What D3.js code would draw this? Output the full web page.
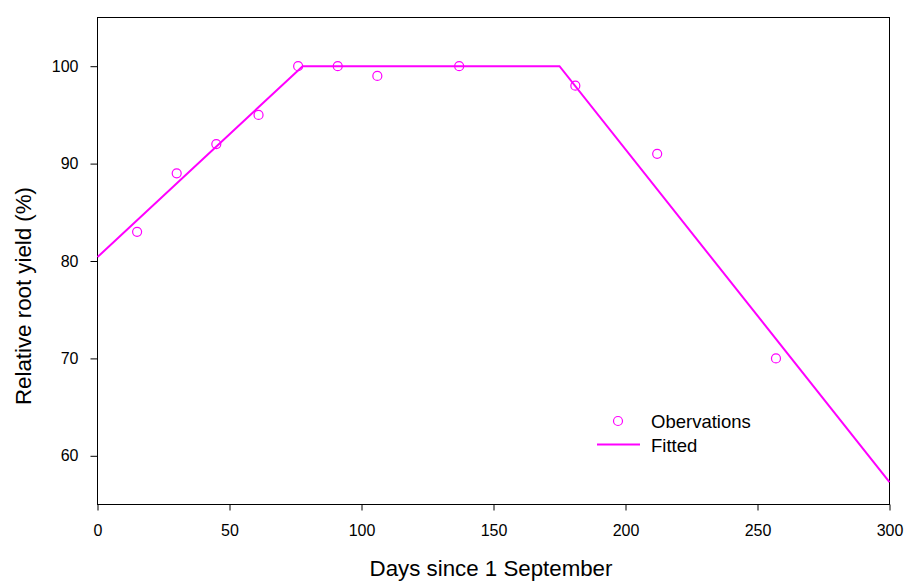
<!DOCTYPE html>
<html><head><meta charset="utf-8">
<script src="https://cdn.jsdelivr.net/npm/d3@7"></script>
<style>body{margin:0;background:#fff}svg{display:block}text{font-family:"Liberation Sans",Arial,sans-serif}</style>
</head><body>
<svg id="c" width="907" height="581"></svg>
<script>
const obsDays = [15, 30, 45, 61, 76, 91, 106, 137, 181, 212, 257];
const obsYield = [83, 89, 92, 95, 100, 100, 99, 100, 98, 91, 70];
const fitDays = [0, 77.7, 175, 300];
const fitYield = [80.4, 100, 100, 57.3];
const xTicks = [0, 50, 100, 150, 200, 250, 300];
const yTicks = [60, 70, 80, 90, 100];
const color = "#ff00ff";

const svg = d3.select("#c");
const L = 97.5, R = 889.5, T = 17.5, B = 504.5;
const x = d3.scaleLinear().domain([0, 300]).range([L, R]);
const y = d3.scaleLinear().domain([55, 105]).range([B, T]);

svg.append("rect").attr("x", L).attr("y", T).attr("width", R - L).attr("height", B - T)
  .attr("fill", "none").attr("stroke", "#000").attr("stroke-width", 1);

const xa = svg.append("g").attr("transform", `translate(0,${B})`)
  .call(d3.axisBottom(x).tickValues(xTicks).tickSize(6).tickPadding(14).tickSizeOuter(0));
const ya = svg.append("g").attr("transform", `translate(${L},0)`)
  .call(d3.axisLeft(y).tickValues(yTicks).tickSize(7).tickPadding(12).tickSizeOuter(0));
[xa, ya].forEach(a => {
  a.select(".domain").remove();
  a.selectAll("text").attr("font-size", 16).attr("fill", "#000").attr("font-family", "Liberation Sans, Arial, sans-serif");
  a.selectAll("line").attr("stroke", "#000");
});

const fit = fitDays.map((d, i) => [d, fitYield[i]]);
svg.append("path").datum(fit)
  .attr("d", d3.line().x(d => x(d[0])).y(d => y(d[1])))
  .attr("fill", "none").attr("stroke", color).attr("stroke-width", 2);

svg.append("g").selectAll("circle").data(obsDays.map((d, i) => [d, obsYield[i]])).join("circle")
  .attr("cx", d => x(d[0])).attr("cy", d => y(d[1])).attr("r", 4.5)
  .attr("fill", "none").attr("stroke", color).attr("stroke-width", 1.2);

svg.append("text").attr("x", 491).attr("y", 576).attr("text-anchor", "middle")
  .attr("font-size", 22.3).text("Days since 1 September");
svg.append("text").attr("transform", `translate(31,296) rotate(-90)`)
  .attr("text-anchor", "middle").attr("font-size", 22.3).text("Relative root yield (%)");

const lg = svg.append("g");
lg.append("circle").attr("cx", 618).attr("cy", 421).attr("r", 4.5)
  .attr("fill", "none").attr("stroke", color).attr("stroke-width", 1.2);
lg.append("text").attr("x", 651).attr("y", 428).attr("font-size", 18.5).text("Obervations");
lg.append("line").attr("x1", 597).attr("x2", 640).attr("y1", 444.5).attr("y2", 444.5)
  .attr("stroke", color).attr("stroke-width", 2);
lg.append("text").attr("x", 651).attr("y", 452).attr("font-size", 18.5).text("Fitted");
</script>
</body></html>
